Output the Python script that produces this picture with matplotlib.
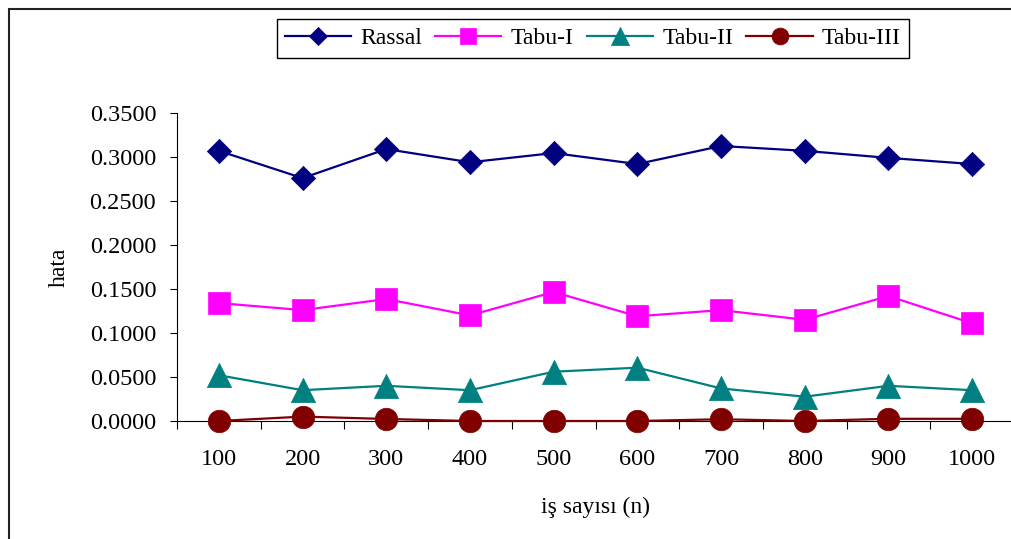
import numpy as np
import matplotlib
matplotlib.use("Agg")
import matplotlib.pyplot as plt
import matplotlib.patches as patches
from matplotlib.path import Path

plt.rcParams['font.family'] = ['Liberation Serif', 'DejaVu Serif']

# job counts on the x axis
categories = ['100', '200', '300', '400', '500', '600', '700', '800', '900', '1000']

# error values per method
rassal = [0.307, 0.276, 0.309, 0.294, 0.3045, 0.292, 0.3125, 0.307, 0.299, 0.292]
tabu_1 = [0.134, 0.126, 0.1386, 0.120, 0.1466, 0.119, 0.126, 0.115, 0.142, 0.111]
tabu_2 = [0.052, 0.035, 0.040, 0.035, 0.056, 0.0606, 0.037, 0.0276, 0.040, 0.035]
tabu_3 = [0.0, 0.005, 0.0023, 0.0, 0.0, 0.0, 0.002, 0.0, 0.0025, 0.0025]

series_names = ['Rassal', 'Tabu-I', 'Tabu-II', 'Tabu-III']
y_ticks = [0.0, 0.05, 0.10, 0.15, 0.20, 0.25, 0.30, 0.35]


def closed(verts):
    v = np.asarray(verts, dtype=float)
    codes = [Path.MOVETO] + [Path.LINETO] * (len(v) - 2) + [Path.CLOSEPOLY]
    return Path(v, codes)


# marker outlines, each spanning its full markersize
diamond = closed([(0, 1), (1, 0), (0, -1), (-1, 0), (0, 1)])
square = closed([(-1, -1), (1, -1), (1, 1), (-1, 1), (-1, -1)])
triangle = closed([(0, 1), (1, -1), (-1, -1), (0, 1)])

styles = [
    (rassal, '#000080', diamond, 17.5),
    (tabu_1, '#FF00FF', square, 16.2),
    (tabu_2, '#008080', triangle, 17.5),
    (tabu_3, '#800000', 'o', 16.2),
]

W, H = 1012, 539
fig = plt.figure(figsize=(W / 100, H / 100), dpi=100)
ax = fig.add_axes([177 / W, (H - 421) / H, (1014 - 177) / W, (421 - 113) / H])

x = np.arange(len(categories))
for (vals, col, mk, ms), name in zip(styles, series_names):
    ax.plot(x, vals, color=col, lw=1.6, marker=mk, markersize=ms,
            markerfacecolor=col, markeredgecolor=col, markeredgewidth=0.5,
            label=name, clip_on=False, zorder=3)

ax.set_xlim(-0.5, len(categories) - 0.5)
ax.set_ylim(0, 0.35)
ax.set_xticks(x)
ax.set_xticklabels(categories)
ax.set_xticks(np.arange(-0.5, len(categories), 1.0), minor=True)
ax.tick_params(axis='x', which='major', length=0, pad=20, labelsize=17.5)
ax.tick_params(axis='x', which='minor', length=6, direction='out', width=0.8)
ax.set_yticks(y_ticks)
ax.set_yticklabels([f'{v:.4f}' for v in y_ticks])
ax.tick_params(axis='y', length=5, width=0.8, pad=10, labelsize=17.5)

for s in ['top', 'right']:
    ax.spines[s].set_visible(False)
for s in ['left', 'bottom']:
    ax.spines[s].set_linewidth(0.8)
    ax.spines[s].set_color('black')

ax.set_xlabel('iş sayısı (n)', fontsize=17)
ax.xaxis.set_label_coords(0.5, -0.246)
ax.set_ylabel('hata', fontsize=17)
ax.yaxis.set_label_coords(-0.128, 0.5)

leg = fig.legend(loc='center', bbox_to_anchor=((283 + 903) / 2 / W, 1 - 38.5 / H),
                 ncol=4, fontsize=17, frameon=True, fancybox=False, framealpha=1,
                 edgecolor='black', handlelength=2.8, handletextpad=0.4,
                 columnspacing=0.55, markerscale=0.75, borderpad=0.35,
                 borderaxespad=0)
leg.get_frame().set_linewidth(1.0)

# outer chart border
fig.patches.append(patches.Rectangle((9 / W, -0.1), 2, (H - 9) / H + 0.1,
                                     transform=fig.transFigure, fill=False,
                                     edgecolor='#222222', linewidth=1.5))

fig.savefig('out.png', dpi=100)
